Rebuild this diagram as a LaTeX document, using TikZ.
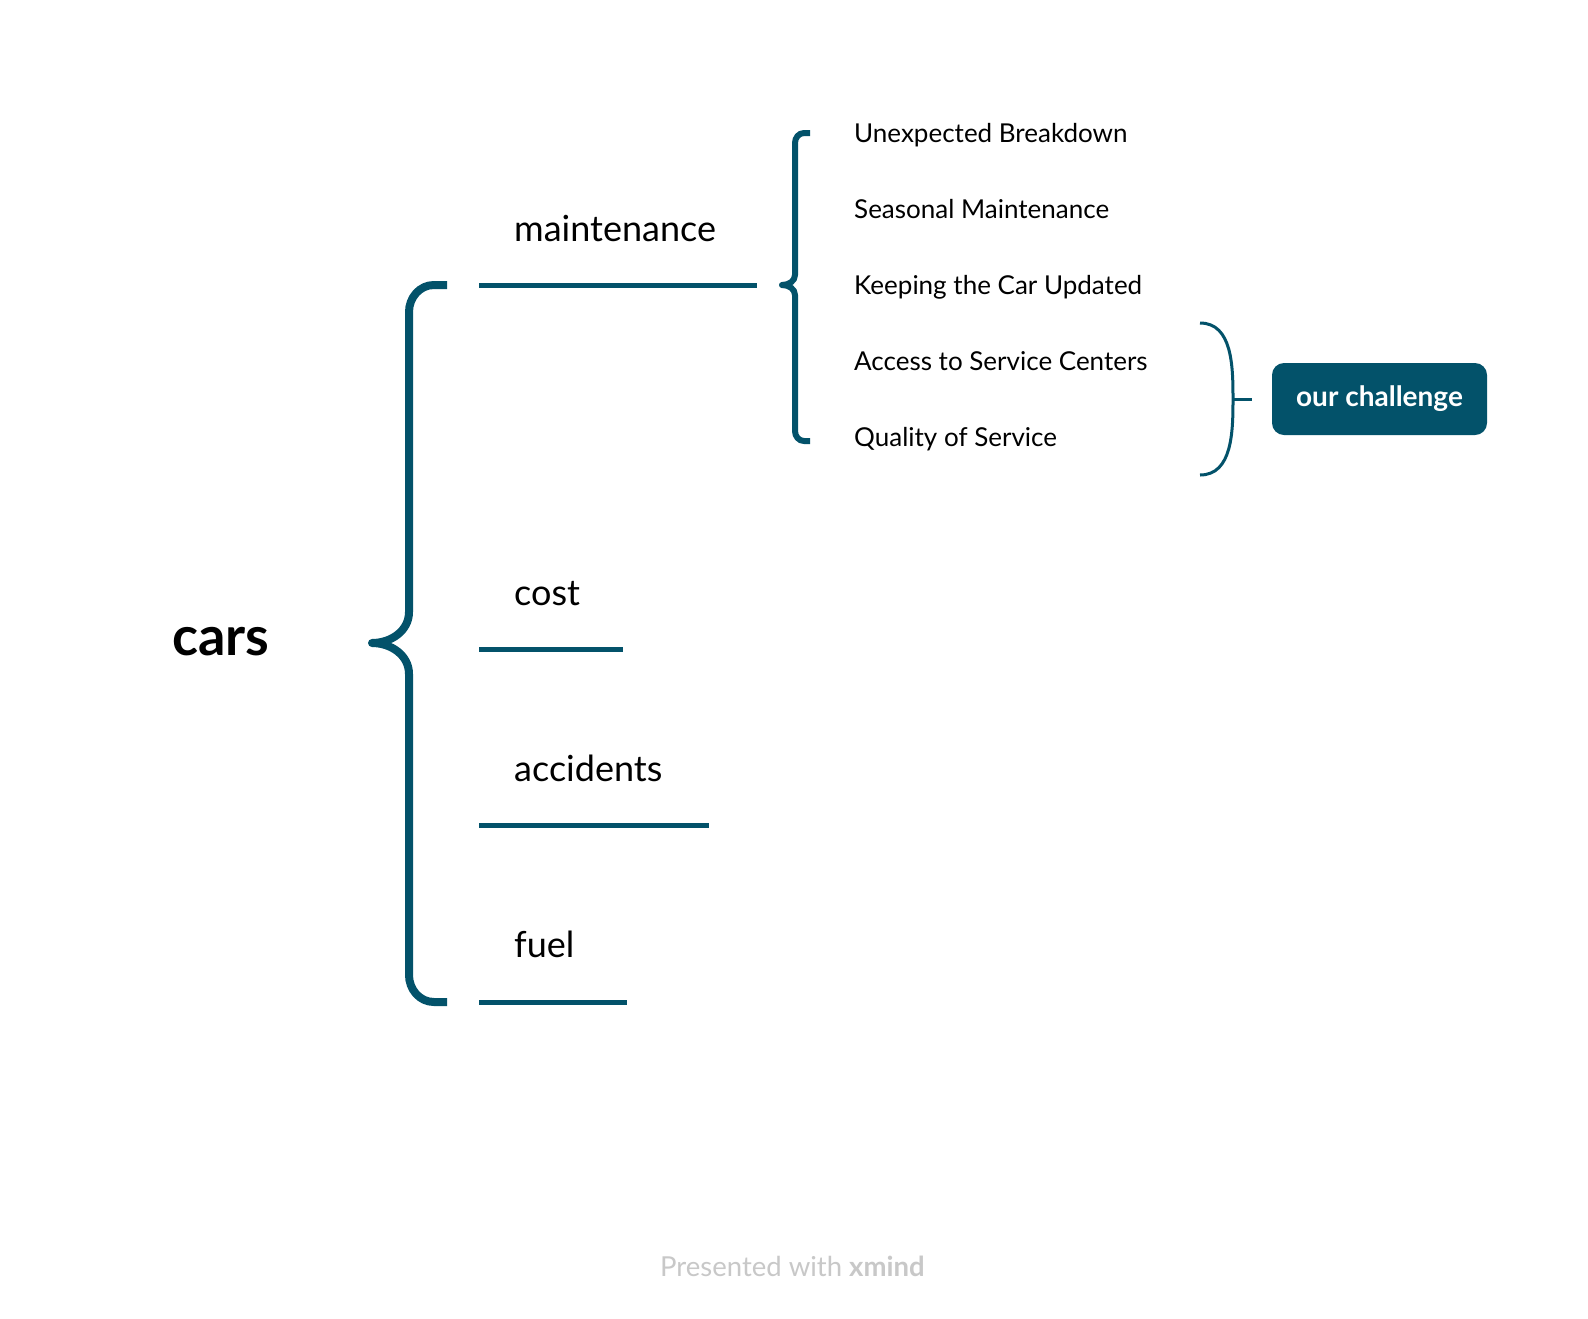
\documentclass[tikz,border=0pt]{standalone}
\usepackage{fontspec}
\setmainfont{Lato}
\usepackage{xcolor}
\definecolor{teal}{HTML}{03526A}
\definecolor{footgray}{HTML}{C8C8C8}
\newcommand{\fs}[1]{\fontsize{#1}{#1}\selectfont}
\tikzset{
  branch/.style={line width=5pt,teal},
  brace/.style={teal,line join=round},
  topic/.style={anchor=base west,inner sep=0pt,font=\fs{36}},
  subtopic/.style={anchor=base west,inner sep=0pt,font=\fs{26}},
}

\begin{document}
\begin{tikzpicture}[x=1pt,y=-1pt]
\useasboundingbox [fill=white] (0,0) rectangle (1588,1318);
%
\node (cars) at (172,655) [anchor=base west,inner sep=0pt,font=\fs{54}\bfseries] {cars};
%
\draw [brace,line width=8pt] (447,285) -- (434,285) to[out=180,in=90] (409,312) -- (409,612) to[out=-90,in=0] (372,643) to[out=0,in=90] (409,674) -- (409,975) to[out=-90,in=180] (434,1002) -- (447,1002);
%
\node (maint) at (514,241) [topic] {maintenance};
\node (cost) at (514,605) [topic] {cost};
\node (acc) at (514,781) [topic] {accidents};
\node (fuel) at (514,957) [topic] {fuel};
\coordinate (m0) at (479,285);\coordinate (m1) at (757,285);
\coordinate (c0) at (479,649);\coordinate (c1) at (623,649);
\coordinate (a0) at (479,825);\coordinate (a1) at (709,825);
\coordinate (f0) at (479,1002);\coordinate (f1) at (627,1002);
\draw [branch] (m0) -- (m1);
\draw [branch] (c0) -- (c1);
\draw [branch] (a0) -- (a1);
\draw [branch] (f0) -- (f1);
%
\draw [brace,line width=6pt] (810,133) -- (804,133) to[out=180,in=90] (795,143) -- (795,275) to[out=-90,in=0] (782,285) to[out=0,in=90] (795,295) -- (795,431) to[out=-90,in=180] (804,441) -- (810,441);
\node (sub1) at (854,142) [subtopic] {Unexpected Breakdown};
\node (sub2) at (854,218) [subtopic] {Seasonal Maintenance};
\node (sub3) at (854,294) [subtopic] {Keeping the Car Updated};
\node (sub4) at (854,370) [subtopic] {Access to Service Centers};
\node (sub5) at (854,446) [subtopic] {Quality of Service};
%
\node (chal) at (1379.5,399) [fill=teal,rounded corners=12pt,minimum width=215pt,minimum height=72pt,text=white,font=\fs{28}\bfseries] {our challenge};
\coordinate (p0) at (1200,323);\coordinate (p1) at (1200,475);\coordinate (pm) at (1233,399);
\draw [brace,line width=3pt] (p0) to[out=0,in=90] (pm) to[out=-90,in=0] (p1);
\draw [line width=3pt,teal] (pm) -- (chal.west-|1252,0);
%
\node (foot) at (660,1276) [anchor=base west,inner sep=0pt,font=\fs{27.5},text=footgray] {Presented with \textbf{xmind}};
\end{tikzpicture}
\end{document}
